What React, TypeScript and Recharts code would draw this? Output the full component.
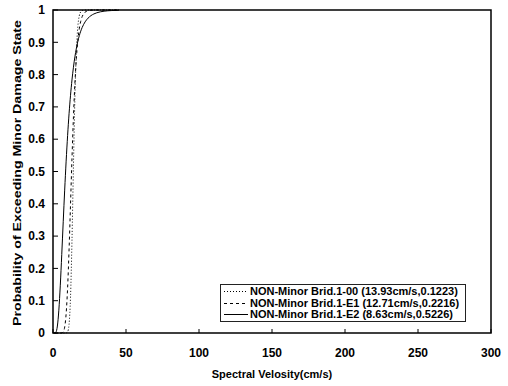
import React from 'react';
import { LineChart, Line, XAxis, YAxis, ReferenceArea, Legend } from 'recharts';

const xValues = [1, 2, 3, 4, 5, 6, 7, 8, 9, 10, 11, 12, 13, 14, 15, 16, 17, 18, 19, 20, 22, 24, 26, 28, 30, 35, 40, 45];
const series00 = [0, 0, 0, 0, 0, 0, 0, 0, 0.0002, 0.0034, 0.0268, 0.1114, 0.286, 0.5166, 0.7277, 0.8715, 0.9483, 0.982, 0.9944, 0.9984, 0.9999, 1, 1, 1, 1, 1, 1, 1];
const seriesE1 = [0, 0, 0, 0, 0, 0.0004, 0.0036, 0.0183, 0.0596, 0.1396, 0.2572, 0.3976, 0.5404, 0.6687, 0.7727, 0.8506, 0.9053, 0.9418, 0.9652, 0.9796, 0.9933, 0.9979, 0.9994, 0.9998, 1, 1, 1, 1];
const seriesE2 = [0, 0.0026, 0.0216, 0.0706, 0.148, 0.2434, 0.3444, 0.4423, 0.532, 0.611, 0.6788, 0.736, 0.7835, 0.8228, 0.855, 0.8813, 0.9028, 0.9203, 0.9345, 0.9461, 0.9633, 0.9748, 0.9826, 0.9878, 0.9914, 0.9963, 0.9983, 0.9992];

const xTicks = [0, 50, 100, 150, 200, 250, 300];
const yTicks = [0, 0.1, 0.2, 0.3, 0.4, 0.5, 0.6, 0.7, 0.8, 0.9, 1];
const yTickLabels = ['0', '0.1', '0.2', '0.3', '0.4', '0.5', '0.6', '0.7', '0.8', '0.9', '1'];

const seriesNames = [
  'NON-Minor Brid.1-00 (13.93cm/s,0.1223)',
  'NON-Minor Brid.1-E1 (12.71cm/s,0.2216)',
  'NON-Minor Brid.1-E2 (8.63cm/s,0.5226)',
];
const dashes = ['1 2', '3 3', undefined];

const data = xValues.map((x, i) => ({ x, s00: series00[i], sE1: seriesE1[i], sE2: seriesE2[i] }));

const FONT = '"Liberation Sans", Arial, sans-serif';

const renderLegend = () => (
  <div
    style={{
      boxSizing: 'border-box',
      width: 246,
      height: 38,
      border: '1px solid #222',
      background: '#fff',
      fontFamily: FONT,
      fontWeight: 'bold',
      fontSize: 11,
      color: '#000',
      paddingTop: 1,
    }}
  >
    {seriesNames.map((name, i) => (
      <div key={name} style={{ height: 11.5, lineHeight: '11.5px', display: 'flex', alignItems: 'center', whiteSpace: 'nowrap' }}>
        <svg width={29} height={11} style={{ flex: 'none' }}>
          <line x1={3} y1={5.5} x2={27} y2={5.5} stroke="#000" strokeWidth={1} strokeDasharray={dashes[i]} />
        </svg>
        <span>{name}</span>
      </div>
    ))}
  </div>
);

export default function App() {
  return (
    <div style={{ position: 'absolute', left: 0, top: 0, width: 508, height: 386, background: '#fff' }}>
      <LineChart width={508} height={386} data={data} margin={{ top: 10, right: 17, left: 0, bottom: 0 }}>
        <ReferenceArea x1={0} x2={300} y1={0} y2={1} fill="none" stroke="#000" strokeWidth={1.5} ifOverflow="visible" />
        <XAxis
          type="number"
          dataKey="x"
          domain={[0, 300]}
          ticks={xTicks}
          height={53}
          axisLine={false}
          tickLine={{ stroke: '#000' }}
          tickSize={-4}
          tickMargin={19}
          tick={{ fill: '#000', fontSize: 12, fontWeight: 'bold', fontFamily: FONT }}
          label={{
            content: () => (
              <text x={272} y={374} textAnchor="middle" dominantBaseline="central" fontFamily={FONT} fontSize={11} fontWeight="bold" fill="#000">
                Spectral Velosity(cm/s)
              </text>
            ),
          }}
        />
        <YAxis
          type="number"
          domain={[0, 1]}
          ticks={yTicks}
          width={53}
          axisLine={false}
          tickLine={{ stroke: '#000' }}
          tickSize={-5}
          tickMargin={13}
          tickFormatter={(v: number) => yTickLabels[yTicks.indexOf(v)] ?? String(v)}
          tick={{ fill: '#000', fontSize: 12, fontWeight: 'bold', fontFamily: FONT }}
          label={{
            content: () => (
              <text
                x={17}
                y={173}
                transform="rotate(-90, 17, 173)"
                textAnchor="middle"
                dominantBaseline="central"
                fontFamily={FONT}
                fontSize={11.5}
                fontWeight="bold"
                fill="#000"
                textLength={306}
                lengthAdjust="spacingAndGlyphs"
              >
                Probability of Exceeding Minor Damage State
              </text>
            ),
          }}
        />
        <Legend
          layout="horizontal"
          verticalAlign="middle"
          align="center"
          content={renderLegend}
          wrapperStyle={{ position: 'absolute', left: 220, top: 284, width: 246, height: 38 }}
        />
        <Line type="monotone" dataKey="s00" stroke="#000" strokeWidth={1} strokeDasharray="1 2" dot={false} isAnimationActive={false} />
        <Line type="monotone" dataKey="sE1" stroke="#000" strokeWidth={1} strokeDasharray="3 3" dot={false} isAnimationActive={false} />
        <Line type="monotone" dataKey="sE2" stroke="#000" strokeWidth={1} dot={false} isAnimationActive={false} />
      </LineChart>
    </div>
  );
}
